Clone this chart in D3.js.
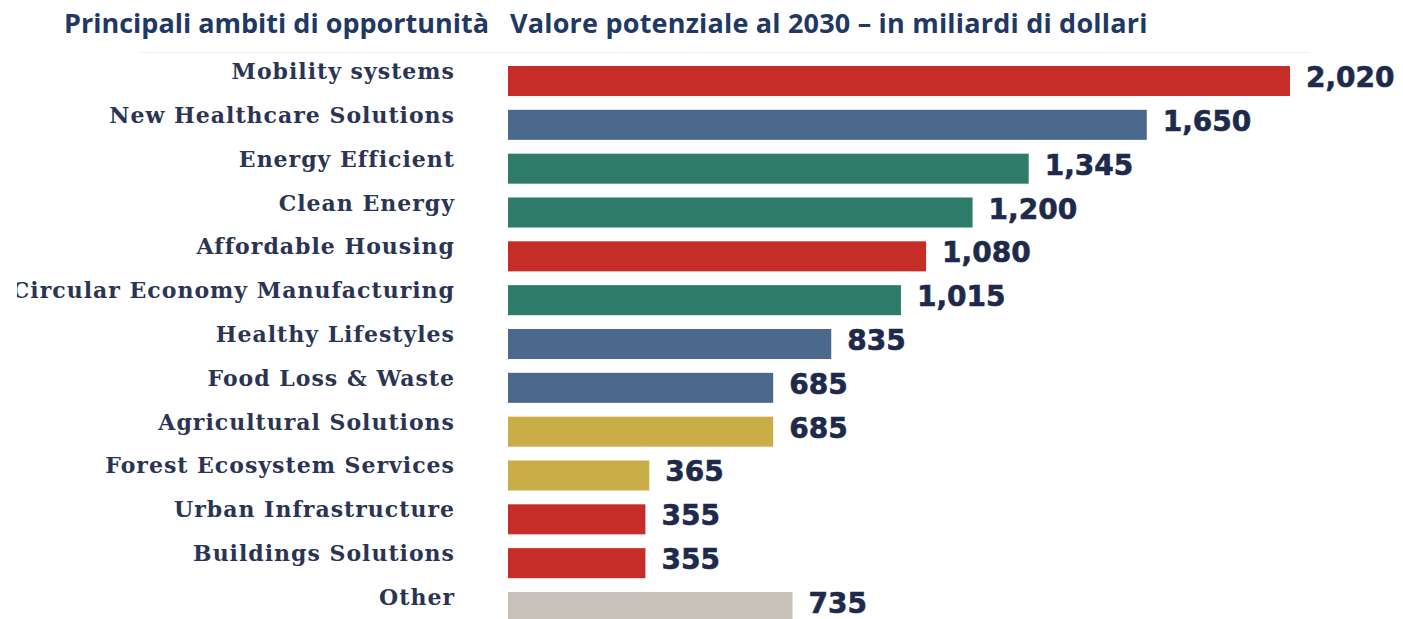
<!DOCTYPE html>
<html>
<head>
<meta charset="utf-8">
<script src="https://cdn.jsdelivr.net/npm/d3@7"></script>
<style>
  body { margin: 0; background: #fff; }
  svg { display: block; }
</style>
</head>
<body>
<div id="chart"></div>
<script>
// data (billions of dollars, 2030)
const categories = [
  "Mobility systems",
  "New Healthcare Solutions",
  "Energy Efficient",
  "Clean Energy",
  "Affordable Housing",
  "Circular Economy Manufacturing",
  "Healthy Lifestyles",
  "Food Loss & Waste",
  "Agricultural Solutions",
  "Forest Ecosystem Services",
  "Urban Infrastructure",
  "Buildings Solutions",
  "Other"
];
const values = [2020, 1650, 1345, 1200, 1080, 1015, 835, 685, 685, 365, 355, 355, 735];
const valueLabels = ["2,020", "1,650", "1,345", "1,200", "1,080", "1,015", "835", "685", "685", "365", "355", "355", "735"];
const groups = ["red", "blue", "green", "green", "red", "green", "blue", "blue", "yellow", "yellow", "red", "red", "other"];

const titleLeft = "Principali ambiti di opportunità";
const titleRight = "Valore potenziale al 2030 – in miliardi di dollari";

const width = 1403, height = 619;

const color = d3.scaleOrdinal()
  .domain(["red", "blue", "green", "yellow", "other"])
  .range(["#c62c28", "#4b698d", "#2f7b69", "#c9ae47", "#c7c1b9"]);

const svg = d3.select("#chart").append("svg")
  .attr("width", width)
  .attr("height", height);

const x = d3.scaleLinear()
  .domain([0, 2020])
  .range([508, 1290]);

const y = d3.scaleBand()
  .domain(categories)
  .range([66, 622])
  .paddingInner(0.315)
  .paddingOuter(0);

// the labels picture is cut at its left edge
svg.append("clipPath")
  .attr("id", "labelclip")
  .append("rect")
  .attr("x", 17).attr("y", 50)
  .attr("width", 480).attr("height", height);

// faint edge of the pasted picture
svg.append("line")
  .attr("x1", 140).attr("x2", 1310)
  .attr("y1", 52.5).attr("y2", 52.5)
  .attr("stroke", "#f1f1f1")
  .attr("stroke-width", 1);

// titles
svg.append("text")
  .attr("x", 64)
  .attr("y", 33)
  .attr("font-family", "'Open Sans', sans-serif")
  .attr("font-weight", 700)
  .attr("font-size", 27)
  .attr("fill", "#1f3864")
  .text(titleLeft);

svg.append("text")
  .attr("x", 510)
  .attr("y", 33)
  .attr("font-family", "'Open Sans', sans-serif")
  .attr("font-weight", 700)
  .attr("font-size", 27)
  .attr("letter-spacing", "0.2px")
  .attr("fill", "#1f3864")
  .text(titleRight);

const rowData = categories.map((c, i) => ({ name: c, value: values[i], label: valueLabels[i], group: groups[i] }));

svg.append("g")
  .selectAll("rect")
  .data(rowData)
  .join("rect")
  .attr("x", x(0))
  .attr("y", d => y(d.name))
  .attr("width", d => x(d.value) - x(0))
  .attr("height", y.bandwidth())
  .attr("fill", d => color(d.group));

// category labels
svg.append("g")
  .attr("clip-path", "url(#labelclip)")
  .selectAll("text")
  .data(rowData)
  .join("text")
  .attr("x", 455)
  .attr("y", d => y(d.name) + y.bandwidth() / 2 - 2)
  .attr("text-anchor", "end")
  .attr("font-family", "'DejaVu Serif', serif")
  .attr("font-weight", 700)
  .attr("font-size", 22)
  .attr("letter-spacing", "1px")
  .attr("fill", "#2b3553")
  .text(d => d.name);

// value labels
svg.append("g")
  .selectAll("text")
  .data(rowData)
  .join("text")
  .attr("x", d => x(d.value) + 16)
  .attr("y", d => y(d.name) + y.bandwidth() / 2 + 6)
  .attr("font-family", "'DejaVu Sans', sans-serif")
  .attr("font-weight", 700)
  .attr("font-size", 28)
  .attr("fill", "#1e2a4c")
  .attr("stroke", "#1e2a4c")
  .attr("stroke-width", 0.6)
  .text(d => d.label);
</script>
</body>
</html>
